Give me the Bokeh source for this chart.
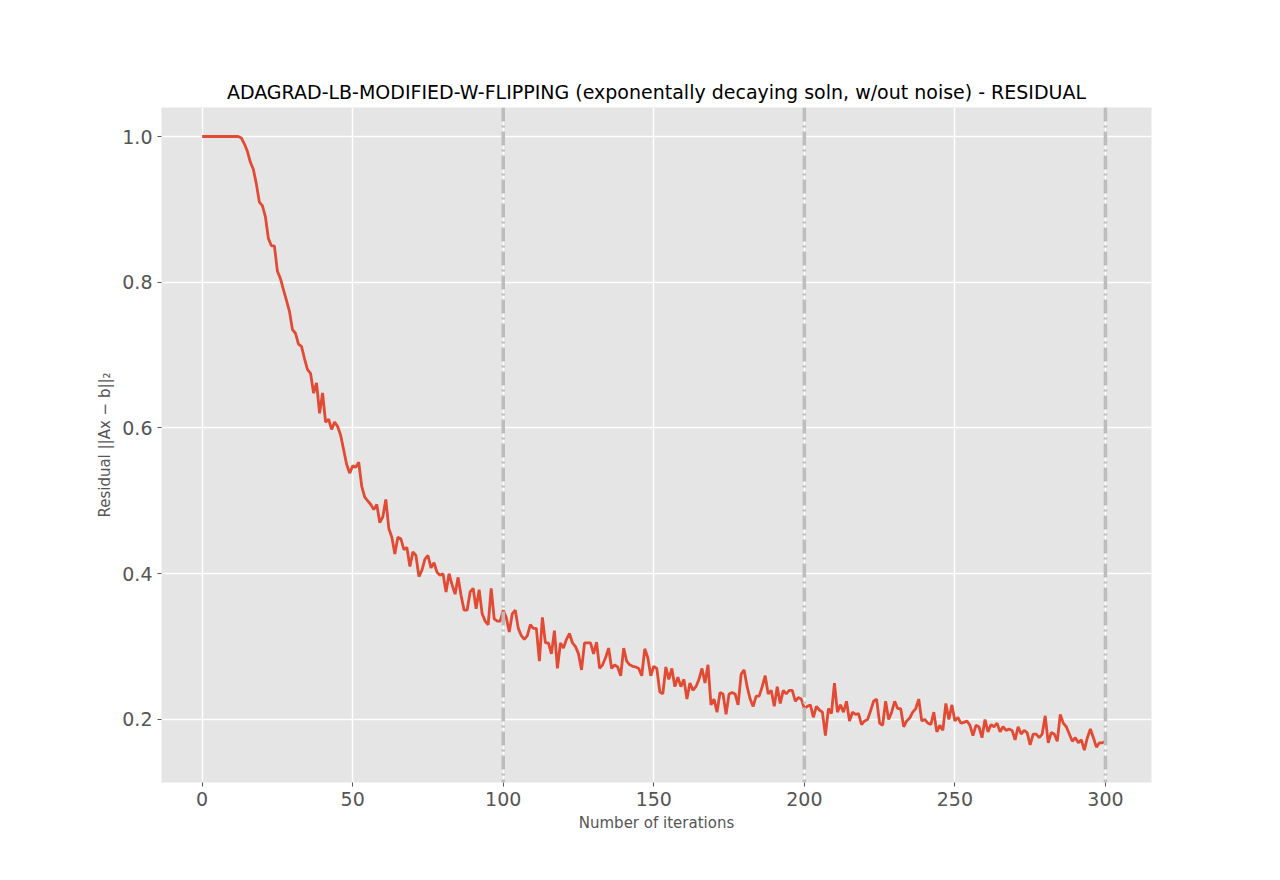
from bokeh.plotting import figure
from bokeh.models import Span, Range1d, CustomJSTickFormatter
from bokeh.embed import file_html
from bokeh.resources import INLINE

# residual per iteration
residual = [
    1.0, 1.0, 1.0, 1.0, 1.0, 1.0, 1.0, 1.0, 1.0, 1.0,
    1.0, 1.0, 1.0, 0.998, 0.99, 0.98, 0.965, 0.955, 0.935, 0.91,
    0.905, 0.89, 0.86, 0.85, 0.85, 0.815, 0.805, 0.79, 0.775, 0.76,
    0.735, 0.73, 0.715, 0.712, 0.695, 0.68, 0.675, 0.648, 0.662, 0.62,
    0.648, 0.608, 0.612, 0.598, 0.608, 0.602, 0.59, 0.57, 0.55, 0.538,
    0.548, 0.546, 0.553, 0.52, 0.505, 0.5, 0.495, 0.488, 0.495, 0.47,
    0.478, 0.502, 0.462, 0.45, 0.427, 0.45, 0.448, 0.433, 0.436, 0.41,
    0.43, 0.425, 0.396, 0.405, 0.42, 0.425, 0.408, 0.415, 0.402, 0.398,
    0.4, 0.375, 0.4, 0.385, 0.372, 0.395, 0.37, 0.35, 0.35, 0.375,
    0.38, 0.352, 0.378, 0.345, 0.335, 0.33, 0.38, 0.338, 0.335, 0.335,
    0.35, 0.34, 0.32, 0.345, 0.35, 0.325, 0.315, 0.31, 0.315, 0.33,
    0.325, 0.325, 0.28, 0.34, 0.305, 0.305, 0.29, 0.322, 0.27, 0.305,
    0.298, 0.31, 0.318, 0.305, 0.3, 0.29, 0.268, 0.305, 0.305, 0.305,
    0.29, 0.306, 0.27, 0.275, 0.285, 0.298, 0.27, 0.275, 0.272, 0.26,
    0.298, 0.28, 0.275, 0.273, 0.272, 0.27, 0.26, 0.297, 0.285, 0.26,
    0.273, 0.27, 0.238, 0.235, 0.272, 0.255, 0.27, 0.245, 0.258, 0.245,
    0.255, 0.228, 0.25, 0.24, 0.245, 0.255, 0.27, 0.25, 0.275, 0.22,
    0.228, 0.21, 0.237, 0.235, 0.207, 0.235, 0.237, 0.235, 0.22, 0.262,
    0.268, 0.245, 0.228, 0.218, 0.232, 0.232, 0.245, 0.26, 0.235, 0.24,
    0.218, 0.245, 0.222, 0.24, 0.235, 0.24, 0.24, 0.225, 0.23, 0.228,
    0.215, 0.218, 0.22, 0.203, 0.218, 0.213, 0.21, 0.178, 0.215, 0.208,
    0.25, 0.21, 0.22, 0.21, 0.225, 0.198, 0.21, 0.207, 0.208, 0.193,
    0.198, 0.2, 0.212, 0.225, 0.228, 0.195, 0.192, 0.225, 0.2, 0.21,
    0.225, 0.215, 0.215, 0.19, 0.198, 0.202, 0.21, 0.215, 0.228, 0.198,
    0.2, 0.195, 0.193, 0.21, 0.183, 0.192, 0.185, 0.222, 0.2, 0.22,
    0.198, 0.203, 0.195, 0.196, 0.198, 0.192, 0.178, 0.192, 0.19, 0.175,
    0.2, 0.183, 0.193, 0.19, 0.195, 0.183, 0.19, 0.185, 0.187, 0.185,
    0.172, 0.19, 0.18, 0.185, 0.182, 0.165, 0.18, 0.18, 0.175, 0.18,
    0.205, 0.168, 0.182, 0.18, 0.17, 0.207, 0.195, 0.19, 0.18, 0.17,
    0.175, 0.168, 0.172, 0.158, 0.175, 0.187, 0.175, 0.162, 0.168, 0.168,
    0.17,
]
iterations = list(range(len(residual)))
restarts = [100, 200, 300]

p = figure(width=1264, height=864, output_backend="svg", toolbar_location=None,
           title="ADAGRAD-LB-MODIFIED-W-FLIPPING (exponentally decaying soln, w/out noise) - RESIDUAL",
           x_axis_label="Number of iterations", y_axis_label="Residual ||Ax − b||₂",
           min_border_left=161, min_border_right=113, min_border_top=107, min_border_bottom=82)
p.x_range = Range1d(-13.5, 315.3)
p.y_range = Range1d(0.1135, 1.0398)
p.background_fill_color = "#e5e5e5"
p.border_fill_color = "white"
p.outline_line_color = None
p.title.align = "center"
p.title.text_font = "DejaVu Sans"
p.title.text_font_size = "19px"
p.title.text_font_style = "normal"
p.title.text_color = "black"

p.xaxis.ticker = [0, 50, 100, 150, 200, 250, 300]
p.yaxis.ticker = [0.2, 0.4, 0.6, 0.8, 1.0]
p.yaxis.formatter = CustomJSTickFormatter(code="return tick.toFixed(1);")
for ax in (p.xaxis[0], p.yaxis[0]):
    ax.axis_line_color = None
    ax.minor_tick_line_color = None
    ax.major_tick_line_color = "#555555"
    ax.major_tick_in = 0
    ax.major_tick_out = 4
    ax.major_label_text_font = "DejaVu Sans"
    ax.major_label_text_font_size = "19px"
    ax.major_label_text_color = "#555555"
    ax.axis_label_text_font = "DejaVu Sans"
    ax.axis_label_text_font_size = "15px"
    ax.axis_label_text_font_style = "normal"
    ax.axis_label_text_color = "#555555"
p.grid.grid_line_color = "white"
p.grid.grid_line_width = 1.5

for r in restarts:
    p.add_layout(Span(location=r, dimension="height", line_color="#bdbdbd",
                      line_width=3.5, line_dash="14 4 2 4"))

p.line(iterations, residual, line_color="#E24A33", line_width=2.8)

open("out.html", "w").write(file_html(p, INLINE))
